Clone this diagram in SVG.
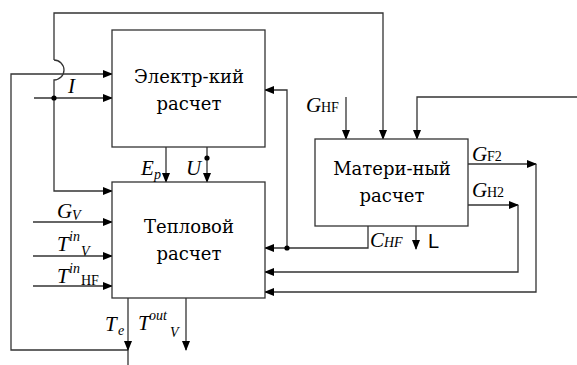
<svg xmlns="http://www.w3.org/2000/svg" width="577" height="365" viewBox="0 0 577 365">
<style>
.ln{fill:none;stroke:#333;stroke-width:1.3}
.box{fill:#fff;stroke:#333;stroke-width:1.3}
.bt{font-family:"DejaVu Serif","Liberation Serif",serif;font-size:18px;text-anchor:middle;fill:#000}
.lb{font-family:"Liberation Serif",serif;font-style:italic;font-size:21px;fill:#000}
.sb{font-family:"Liberation Serif",serif;font-size:14px;fill:#000}
.si{font-family:"Liberation Serif",serif;font-style:italic;font-size:14px;fill:#000}
.dot{fill:#000}
</style>
<defs>
<marker id="ar" markerWidth="10" markerHeight="8" refX="9" refY="4" orient="auto" markerUnits="userSpaceOnUse">
<path d="M0,0 L10,4 L0,8 z" fill="#000"/>
</marker>
</defs>
<g id="connectors">
<path class="ln" d="M54,60 V13 H383 V139" marker-end="url(#ar)"/>
<path class="ln" d="M54,60 A7,7 0 0 1 54,80 V191 H112" marker-end="url(#ar)"/>
<path class="ln" d="M128,350 H11 V74 H112" marker-end="url(#ar)"/>
<path class="ln" d="M34,98 H112" marker-end="url(#ar)"/>
<path class="ln" d="M166,147 V182" marker-end="url(#ar)"/>
<path class="ln" d="M207,147 V182" marker-end="url(#ar)"/>
<path class="ln" d="M287,248 V90 H265" marker-end="url(#ar)"/>
<path class="ln" d="M368,226 V248 H265" marker-end="url(#ar)"/>
<path class="ln" d="M416,226 V249" marker-end="url(#ar)"/>
<path class="ln" d="M346,97 V139" marker-end="url(#ar)"/>
<path class="ln" d="M577,97 H417 V139" marker-end="url(#ar)"/>
<path class="ln" d="M468,164 H536" marker-end="url(#ar)"/>
<path class="ln" d="M536,164 V292 H265" marker-end="url(#ar)"/>
<path class="ln" d="M468,205 H518" marker-end="url(#ar)"/>
<path class="ln" d="M518,205 V272 H265" marker-end="url(#ar)"/>
<path class="ln" d="M33,222 H112" marker-end="url(#ar)"/>
<path class="ln" d="M33,256 H112" marker-end="url(#ar)"/>
<path class="ln" d="M33,286 H112" marker-end="url(#ar)"/>
<path class="ln" d="M128,298 V350" marker-end="url(#ar)"/>
<path class="ln" d="M128,350 V365"/>
<path class="ln" d="M186,298 V350" marker-end="url(#ar)"/>
<circle class="dot" cx="54" cy="98" r="2.6"/>
<circle class="dot" cx="207" cy="158" r="2.6"/>
<circle class="dot" cx="287" cy="248" r="2.6"/>
</g>
<g id="electric">
<rect class="box" x="112" y="30" width="153" height="117"/>
<text class="bt" x="189" y="83">Электр-кий</text>
<text class="bt" x="189" y="110">расчет</text>
</g>
<g id="thermal">
<rect class="box" x="112" y="182" width="153" height="116"/>
<text class="bt" x="189" y="233">Тепловой</text>
<text class="bt" x="189" y="260">расчет</text>
</g>
<g id="material">
<rect class="box" x="315" y="139" width="153" height="87"/>
<text class="bt" x="392" y="175">Матери-ный</text>
<text class="bt" x="392" y="202">расчет</text>
</g>
<g id="labels">
<text class="lb" x="68" y="93">I</text>
<text class="lb" x="141" y="175">E</text><text class="si" x="154" y="179">p</text>
<text class="lb" x="186" y="175">U</text>
<text class="lb" x="306" y="112">G</text><text class="sb" x="321" y="112">HF</text>
<text class="lb" x="472" y="161">G</text><text class="sb" x="487" y="161">F2</text>
<text class="lb" x="472" y="197">G</text><text class="sb" x="487" y="197">H2</text>
<text class="lb" x="370" y="247">C</text><text class="si" x="384" y="247">HF</text>
<text x="428" y="248" style="font-family:'Liberation Sans',sans-serif;font-size:20px;fill:#000">L</text>
<text class="lb" x="57" y="218">G</text><text class="si" x="72" y="220">V</text>
<text class="lb" x="57" y="251">T</text><text class="si" x="69" y="241">in</text><text class="si" x="81" y="256">V</text>
<text class="lb" x="57" y="283">T</text><text class="si" x="69" y="273">in</text><text class="sb" x="81" y="285">HF</text>
<text class="lb" x="105" y="331">T</text><text class="si" x="118" y="335">e</text>
<text class="lb" x="138" y="330">T</text><text class="si" x="149" y="320">out</text><text class="si" x="170" y="337">V</text>
</g>
</svg>
